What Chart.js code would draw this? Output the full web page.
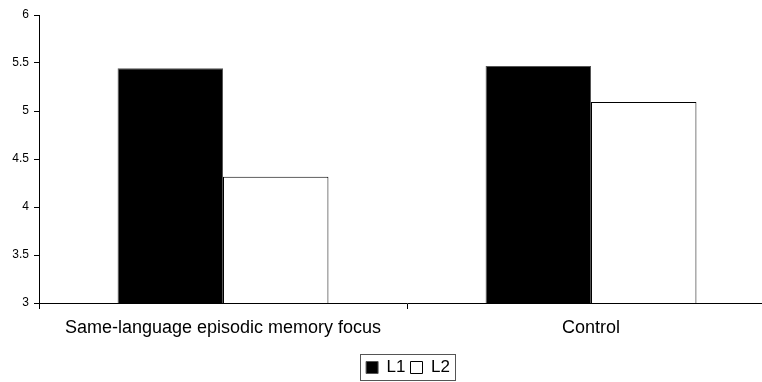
<!DOCTYPE html>
<html>
<head>
<meta charset="utf-8">
<script src="https://cdn.jsdelivr.net/npm/chart.js@4/dist/chart.umd.min.js"></script>
<style>
  html, body { margin: 0; padding: 0; background: #fff; overflow: hidden; }
  #wrap { width: 814px; height: 382px; position: relative; }
</style>
</head>
<body>
<div id="wrap"><canvas id="chart"></canvas></div>
<script>
const categories = ["Same-language episodic memory focus", "Control"];
const l1Values = [5.445, 5.47];
const l2Values = [4.315, 5.095];
const yTicks = [3, 3.5, 4, 4.5, 5, 5.5, 6];

// centres the legend under the plot area and draws a thin frame round it
const legendFrame = {
  id: "legendFrame",
  afterUpdate(chart) {
    const lg = chart.legend;
    const dx = (chart.chartArea.left + chart.chartArea.right) / 2 + 1 - (lg.left + lg.right) / 2;
    lg.left += dx;
    lg.right += dx;
    lg.legendHitBoxes.forEach((b) => {
      b.left += dx;
    });
  },
  afterDraw(chart) {
    const boxes = chart.legend.legendHitBoxes;
    if (!boxes || !boxes.length) return;
    const left = Math.min(...boxes.map((b) => b.left)) - 6;
    const right = Math.max(...boxes.map((b) => b.left + b.width)) + 5;
    const top = Math.min(...boxes.map((b) => b.top)) - 5;
    const bottom = Math.max(...boxes.map((b) => b.top + b.height)) + 4;
    const ctx = chart.ctx;
    ctx.save();
    ctx.strokeStyle = "#555";
    ctx.lineWidth = 1;
    ctx.strokeRect(Math.round(left) + 0.5, Math.round(top) + 0.5, Math.round(right - left), Math.round(bottom - top));
    ctx.restore();
  },
};

Chart.defaults.font.family = "Arial, 'Liberation Sans', sans-serif";
Chart.defaults.color = "#000";

new Chart(document.getElementById("chart"), {
  type: "bar",
  data: {
    labels: categories,
    datasets: [
      {
        label: "L1",
        data: l1Values,
        backgroundColor: "#000",
        borderColor: "#555",
        borderWidth: 1,
        categoryPercentage: 0.573,
        barPercentage: 1,
      },
      {
        label: "L2",
        data: l2Values,
        backgroundColor: "#fff",
        borderColor: "#000",
        borderWidth: 1,
        categoryPercentage: 0.573,
        barPercentage: 1,
      },
    ],
  },
  options: {
    responsive: true,
    maintainAspectRatio: false,
    animation: false,
    layout: { padding: { left: 0, right: 39, top: 15, bottom: -4 } },
    plugins: {
      tooltip: { enabled: false },
      legend: {
        position: "bottom",
        labels: {
          boxWidth: 12,
          boxHeight: 12,
          padding: 5,
          font: { size: 17 },
        },
      },
    },
    scales: {
      x: {
        afterFit: (axis) => {
          axis.height = 51;
        },
        grid: {
          offset: true,
          drawOnChartArea: false,
          tickLength: 6,
          color: "#000",
        },
        border: { color: "#000", width: 1 },
        ticks: { font: { size: 18 }, padding: 8, maxRotation: 0 },
      },
      y: {
        min: 3,
        max: 6,
        afterFit: (axis) => {
          axis.width = 39;
        },
        afterBuildTicks: (axis) => {
          axis.ticks = yTicks.map((v) => ({ value: v }));
        },
        grid: {
          drawOnChartArea: false,
          tickLength: 5,
          color: "#000",
        },
        border: { color: "#000", width: 1 },
        ticks: { font: { size: 12 }, padding: 5, callback: (v) => String(v) },
      },
    },
  },
  plugins: [legendFrame],
});
</script>
</body>
</html>
